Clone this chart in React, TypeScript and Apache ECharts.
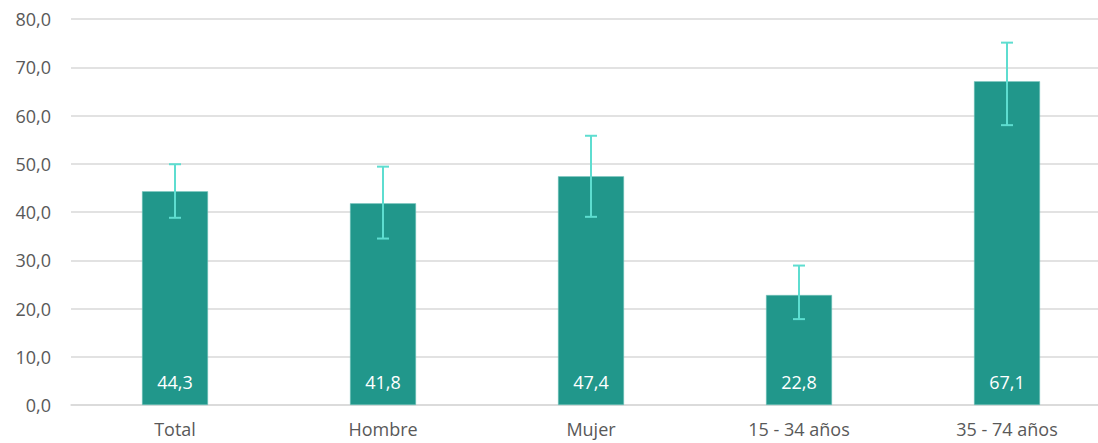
import React, { useEffect, useRef } from "react";
import * as echarts from "echarts";

const categories = ["Total", "Hombre", "Mujer", "15 - 34 años", "35 - 74 años"];
const values = [44.3, 41.8, 47.4, 22.8, 67.1];
const errLow = [38.8, 34.5, 39.0, 17.8, 58.0];
const errHigh = [49.9, 49.4, 55.8, 28.9, 75.1];

const fmt = (v: number) => v.toFixed(1).replace(".", ",");

export default function App() {
  const ref = useRef<HTMLDivElement>(null);
  useEffect(() => {
    if (!ref.current) return;
    const chart = echarts.init(ref.current, null, { renderer: "svg" });
    const font = "'Open Sans', 'Noto Sans', sans-serif";
    chart.setOption({
      animation: false,
      grid: { left: 71, top: 19, width: 1040, height: 386, containLabel: false },
      xAxis: {
        type: "category",
        data: categories,
        axisTick: { show: false },
        axisLine: { lineStyle: { color: "#D9D9D9", width: 1.5 } },
        axisLabel: { color: "#595959", fontSize: 18, fontFamily: font, margin: 15 },
      },
      yAxis: {
        type: "value",
        min: 0,
        max: 80,
        interval: 10,
        axisLine: { show: false },
        axisTick: { show: false },
        splitLine: { lineStyle: { color: "#D9D9D9", width: 1.5 } },
        axisLabel: { color: "#595959", fontSize: 18, fontFamily: font, margin: 20, formatter: (v: number) => fmt(v) },
      },
      series: [
        {
          type: "bar",
          data: values,
          barWidth: 66,
          itemStyle: { color: "#21978B", borderColor: "#7CC9C0", borderWidth: 0.5 },
          label: {
            show: true,
            position: "insideBottom",
            distance: 14,
            color: "#FFFFFF",
            fontSize: 18,
            fontFamily: font,
            formatter: (p: any) => fmt(p.value),
          },
        },
        {
          type: "custom",
          data: categories.map((_, i) => [i, errLow[i], errHigh[i]]),
          z: 10,
          renderItem: (params: any, api: any) => {
            const x = api.value(0);
            const lo = api.coord([x, api.value(1)]);
            const hi = api.coord([x, api.value(2)]);
            const half = 6;
            const style = { stroke: "#5EDDD0", lineWidth: 2, fill: "none" };
            return {
              type: "group",
              children: [
                { type: "line", shape: { x1: lo[0], y1: lo[1], x2: hi[0], y2: hi[1] }, style },
                { type: "line", shape: { x1: hi[0] - half, y1: hi[1], x2: hi[0] + half, y2: hi[1] }, style },
                { type: "line", shape: { x1: lo[0] - half, y1: lo[1], x2: lo[0] + half, y2: lo[1] }, style },
              ],
            };
          },
        },
      ],
    });
    return () => chart.dispose();
  }, []);
  return (
    <div style={{ position: "absolute", left: 0, top: 0, width: 1098, height: 443, overflow: "hidden", background: "#fff" }}>
      <div ref={ref} style={{ width: 1200, height: 443 }} />
    </div>
  );
}
